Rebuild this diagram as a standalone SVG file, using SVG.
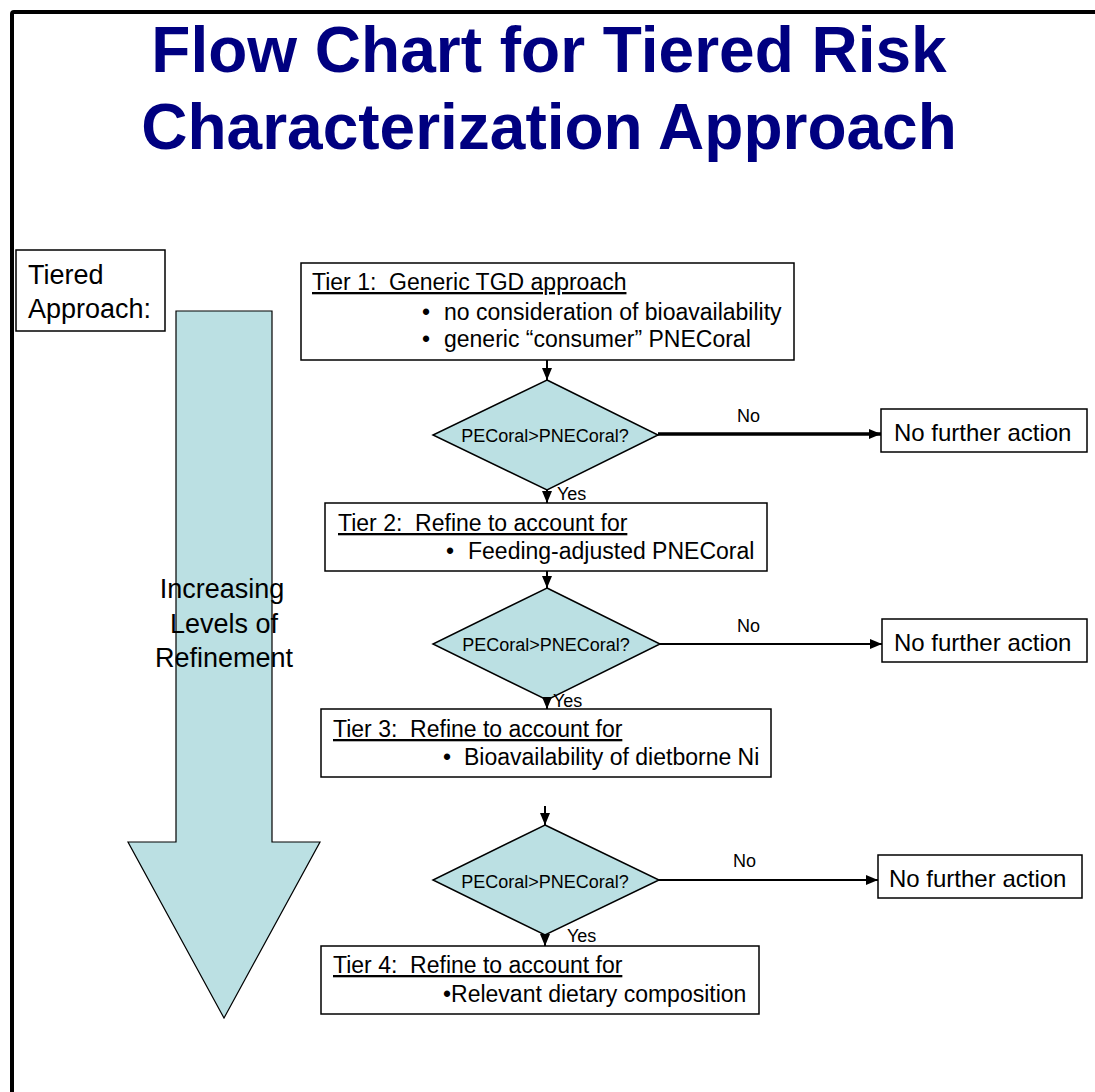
<svg xmlns="http://www.w3.org/2000/svg" width="1095" height="1092" viewBox="0 0 1095 1092">
<style>
.t{font-family:"Liberation Sans",Arial,sans-serif;fill:#000}
.box{fill:#fff;stroke:#000;stroke-width:1.5}
.dia{fill:#BBE0E3;stroke:#000;stroke-width:1.5}
.c{stroke:#000;stroke-width:2;fill:none}
.thick{stroke-width:3.5}
.title{font-family:"Liberation Sans",Arial,sans-serif;font-weight:bold;font-size:64px;fill:#000080}
.f23{font-size:23px}
.f18{font-size:18px}
.f24{font-size:24px}
.f27{font-size:27px}
</style>
<defs>
<marker id="ah" markerUnits="userSpaceOnUse" markerWidth="14" markerHeight="14" viewBox="0 0 14 14" refX="12" refY="7" orient="auto">
<path d="M0,2 L12,7 L0,12 Z" fill="#000"/>
</marker>
</defs>
<rect x="0" y="0" width="1095" height="1092" fill="#fff"/>
<path d="M12,1092 V14 Q12,12 14,12 H1095" fill="none" stroke="#000" stroke-width="4"/>
<g id="title">
<text class="title" x="549" y="72" text-anchor="middle">Flow Chart for Tiered Risk</text>
<text class="title" x="549" y="149" text-anchor="middle">Characterization Approach</text>
</g>
<g id="tiered-label">
<rect class="box" x="16" y="250" width="149" height="81"/>
<text class="t f27" x="28" y="284">Tiered</text>
<text class="t f27" x="28" y="318">Approach:</text>
</g>
<g id="refinement-arrow">
<path d="M176,311 H272 V842 H320 L224,1018 L128,842 H176 Z" fill="#BBE0E3" stroke="#000" stroke-width="1.2"/>
<text class="t f27" x="222" y="598" text-anchor="middle">Increasing</text>
<text class="t f27" x="224" y="633" text-anchor="middle">Levels of</text>
<text class="t f27" x="224" y="667" text-anchor="middle">Refinement</text>
</g>
<g id="tier1">
<rect class="box" x="301" y="263" width="493" height="97"/>
<text class="t f23" x="312" y="290" text-decoration="underline" xml:space="preserve">Tier 1:  Generic TGD approach</text>
<text class="t f23" x="422" y="320">•</text>
<text class="t f23" x="444" y="320">no consideration of bioavailability</text>
<text class="t f23" x="422" y="347">•</text>
<text class="t f23" x="444" y="347">generic “consumer” PNECoral</text>
</g>
<g id="decision1">
<polygon class="dia" points="547,380 658,435 547,490 433,435"/>
<text class="t f18" x="545" y="442" text-anchor="middle">PECoral&gt;PNECoral?</text>
</g>
<g id="nfa1">
<rect class="box" x="881" y="409" width="206" height="43"/>
<text class="t f24" x="894" y="441">No further action</text>
</g>
<g id="tier2">
<rect class="box" x="325" y="503" width="442" height="68"/>
<text class="t f23" x="338" y="531" text-decoration="underline" xml:space="preserve">Tier 2:  Refine to account for</text>
<text class="t f23" x="446" y="559">•</text>
<text class="t f23" x="468" y="559">Feeding-adjusted PNECoral</text>
</g>
<g id="decision2">
<polygon class="dia" points="547,588 660,644 547,700 433,644"/>
<text class="t f18" x="546" y="651" text-anchor="middle">PECoral&gt;PNECoral?</text>
</g>
<g id="nfa2">
<rect class="box" x="882" y="619" width="205" height="43"/>
<text class="t f24" x="894" y="651">No further action</text>
</g>
<g id="tier3">
<rect class="box" x="321" y="709" width="450" height="68"/>
<text class="t f23" x="333" y="737" text-decoration="underline" xml:space="preserve">Tier 3:  Refine to account for</text>
<text class="t f23" x="443" y="765">•</text>
<text class="t f23" x="464" y="765">Bioavailability of dietborne Ni</text>
</g>
<g id="decision3">
<polygon class="dia" points="545,825 659,880 545,935 433,880"/>
<text class="t f18" x="545" y="888" text-anchor="middle">PECoral&gt;PNECoral?</text>
</g>
<g id="nfa3">
<rect class="box" x="878" y="855" width="204" height="43"/>
<text class="t f24" x="889" y="887">No further action</text>
</g>
<g id="tier4">
<rect class="box" x="321" y="946" width="438" height="68"/>
<text class="t f23" x="333" y="973" text-decoration="underline" xml:space="preserve">Tier 4:  Refine to account for</text>
<text class="t f23" x="443" y="1002">•Relevant dietary composition</text>
</g>
<g id="connectors">
<line class="c" x1="547" y1="360" x2="547" y2="380" marker-end="url(#ah)"/>
<line class="c thick" x1="658" y1="434" x2="881" y2="434" marker-end="url(#ah)"/>
<line class="c" x1="547" y1="490" x2="547" y2="503" marker-end="url(#ah)"/>
<line class="c" x1="547" y1="571" x2="547" y2="588" marker-end="url(#ah)"/>
<line class="c" x1="660" y1="644" x2="882" y2="644" marker-end="url(#ah)"/>
<line class="c" x1="547" y1="700" x2="547" y2="709" marker-end="url(#ah)"/>
<line class="c" x1="545" y1="806" x2="545" y2="825" marker-end="url(#ah)"/>
<line class="c" x1="659" y1="880" x2="878" y2="880" marker-end="url(#ah)"/>
<line class="c" x1="545" y1="935" x2="545" y2="946" marker-end="url(#ah)"/>
<text class="t f18" x="737" y="422">No</text>
<text class="t f18" x="557" y="500">Yes</text>
<text class="t f18" x="737" y="632">No</text>
<text class="t f18" x="553" y="707">Yes</text>
<text class="t f18" x="733" y="867">No</text>
<text class="t f18" x="567" y="942">Yes</text>
</g>
</svg>
